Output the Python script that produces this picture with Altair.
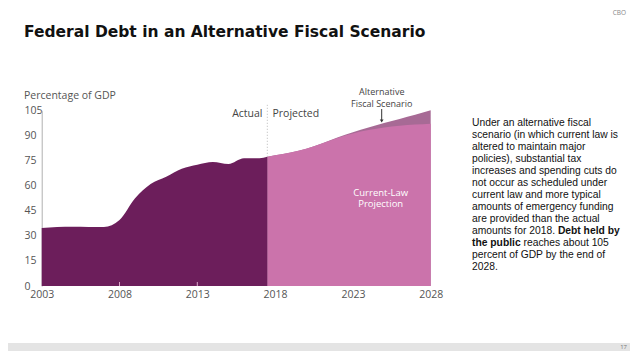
import altair as alt
import pandas as pd

# ---------------- data ----------------
actual_years = [2003, 2004, 2005, 2006, 2007, 2008, 2009, 2010, 2011, 2012,
                2013, 2014, 2015, 2016, 2017, 2017.5]
actual_debt = [34.7, 35.4, 35.5, 35.4, 35.4, 39.5, 52.5, 61.1, 65.5, 70.3,
               72.7, 74.3, 73.1, 76.5, 76.5, 77.4]

proj_years = [2017.5, 2018, 2019, 2020, 2021, 2022, 2023, 2024, 2025, 2026, 2027, 2028]
current_law = [77.4, 78.3, 79.9, 82.2, 85.3, 88.7, 91.4, 93.4, 95.0, 96.0, 96.7, 97.2]
alternative = [77.4, 78.3, 79.9, 82.2, 85.3, 89.0, 92.1, 94.9, 97.6, 100.1, 102.6, 105.2]

x_ticks = [2003, 2008, 2013, 2018, 2023, 2028]
y_ticks = [0, 15, 30, 45, 60, 75, 90, 105]
inner_ticks = [2008, 2013]

body_lines = [
    "Under an alternative fiscal",
    "scenario (in which current law is",
    "altered to maintain major",
    "policies), substantial tax",
    "increases and spending cuts do",
    "not occur as scheduled under",
    "current law and more typical",
    "amounts of emergency funding",
    "are provided than the actual",
    None,
    None,
    "percent of GDP by the end of",
    "2028.",
]

# ---------------- layout ----------------
W, H = 389, 175.3
OX, OY = 41.7, 110.7  # page position of plot origin

def px(x):
    return x - OX

def py(y):
    return y - OY

C_DARK = "#6c1e5b"
C_LIGHT = "#cb73ab"
C_ALT = "#a76a95"
FONT = "Open Sans"
TXT = "#444444"

xscale = alt.Scale(domain=[2003, 2028], nice=False, zero=False)
yscale = alt.Scale(domain=[0, 105], nice=False)

xaxis = alt.Axis(values=x_ticks, format="d", title=None, domain=False, ticks=False,
                 grid=False, labelFont=FONT, labelFontSize=10.5, labelColor="#555555",
                 labelPadding=3, labelFlush=False)
yaxis = alt.Axis(values=y_ticks, title=None, ticks=False, grid=False, domain=True,
                 domainColor="#b0b0b0", domainWidth=1, labelAlign="left",
                 labelPadding=17.7, labelFont=FONT, labelFontSize=10.5,
                 labelColor="#555555", labelBaseline="middle")

df_act = pd.DataFrame({"year": actual_years, "value": actual_debt})
df_cur = pd.DataFrame({"year": proj_years, "value": current_law})
df_alt = pd.DataFrame({"year": proj_years, "value": alternative})

def area(df, color):
    return alt.Chart(df).mark_area(color=color, interpolate="monotone", opacity=1).encode(
        x=alt.X("year:Q", scale=xscale, axis=xaxis),
        y=alt.Y("value:Q", scale=yscale, axis=yaxis),
    )

alt_area = area(df_alt, C_ALT)
cur_area = area(df_cur, C_LIGHT)
act_area = area(df_act, C_DARK)

ticks = alt.Chart(pd.DataFrame({"year": inner_ticks, "lo": [0, 0], "hi": [2.4, 2.4]})).mark_rule(
    color="#d9a6c8", strokeWidth=1).encode(
    x=alt.X("year:Q", scale=xscale, axis=xaxis),
    y=alt.Y("lo:Q", scale=yscale, axis=yaxis),
    y2="hi:Q",
)

divider = alt.Chart(pd.DataFrame({"year": [2017.5], "lo": [77.4], "hi": [108.5]})).mark_rule(
    color="#b8b8b8", strokeWidth=1, strokeDash=[1, 2]).encode(
    x=alt.X("year:Q", scale=xscale, axis=xaxis),
    y=alt.Y("lo:Q", scale=yscale, axis=yaxis),
    y2="hi:Q",
)

one = pd.DataFrame({"k": [0]})

def label(text, x, y, size=10.5, color=TXT, align="left", weight="normal", font=FONT):
    return alt.Chart(pd.DataFrame({"t": [text]})).mark_text(
        align=align, baseline="middle", fontSize=size, color=color,
        fontWeight=weight, font=font).encode(
        text="t:N", x=alt.value(px(x)), y=alt.value(py(y)))

texts = [
    label("Federal Debt in an Alternative Fiscal Scenario", 24, 32, size=15.5,
          color="#111111", weight="bold", font="DejaVu Sans"),
    label("CBO", 626, 13, size=6.5, color="#888888", align="right"),
    label("Percentage of GDP", 24, 96, size=10.5, color="#555555"),
    label("Actual", 262.5, 114, size=10.5, align="right"),
    label("Projected", 272.5, 114, size=10.5),
    label("Alternative", 381.7, 92, size=9, align="center"),
    label("Fiscal Scenario", 381.7, 103.5, size=9, align="center"),
    label("Current-Law", 380.7, 192.5, size=9.5, color="#ffffff", align="center"),
    label("Projection", 380.7, 204, size=9.5, color="#ffffff", align="center"),
]

BFS = 10.3
BX = 472
for i, line in enumerate(body_lines):
    if line is not None:
        texts.append(label(line, BX, 123 + 12 * i, size=BFS, color="#111111",
                           font="Liberation Sans"))
# mixed-weight lines
texts.append(label("amounts for 2018.", BX, 123 + 12 * 9, size=BFS, color="#111111",
                   font="Liberation Sans"))
texts.append(label("Debt held by", BX + 8.338 * BFS, 123 + 12 * 9, size=BFS,
                   color="#111111", weight="bold", font="Liberation Sans"))
texts.append(label("the public", BX, 123 + 12 * 10, size=BFS, color="#111111",
                   weight="bold", font="Liberation Sans"))
texts.append(label("reaches about 105", BX + 4.723 * BFS + 0.278 * BFS, 123 + 12 * 10,
                   size=BFS, color="#111111", font="Liberation Sans"))

arrow_line = alt.Chart(one).mark_rule(color="#333333", strokeWidth=1).encode(
    x=alt.value(px(381.7)), y=alt.value(py(109)), y2=alt.value(py(120)))
arrow_head = alt.Chart(one).mark_point(shape="triangle-down", filled=True, color="#333333",
                                       size=14, opacity=1).encode(
    x=alt.value(px(381.7)), y=alt.value(py(121)))

footer = alt.Chart(one).mark_rect(color="#e4e4e4").encode(
    x=alt.value(px(8)), x2=alt.value(px(630)), y=alt.value(py(343)), y2=alt.value(py(351)))
page_no = label("17", 627, 347, size=6, color="#777777", align="right")

chart = alt.layer(alt_area, cur_area, act_area, ticks, divider, arrow_line, arrow_head,
                  footer, page_no, *texts).properties(
    width=W, height=H,
    autosize=alt.AutoSizeParams(type="none"),
    padding={"left": OX - 8, "top": OY - 8, "right": 630 - OX - W, "bottom": 351 - OY - H},
    background="white",
).configure_view(stroke=None)

chart.save("out.html", embed_options={"renderer": "svg", "actions": False})
